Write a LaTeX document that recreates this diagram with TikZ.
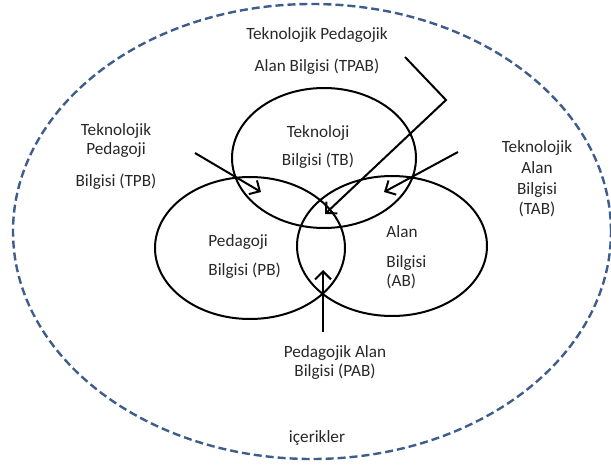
\documentclass[tikz,border=0pt]{standalone}
\usepackage{fontspec}
\setmainfont{Carlito}
\usetikzlibrary{shapes.geometric,arrows.meta}
\definecolor{dashblue}{RGB}{62,92,140}
\definecolor{textgray}{RGB}{40,40,40}
\tikzset{
  area/.style={draw=black, line width=1pt, ellipse, inner sep=0pt},
  infotext/.style={text=textgray, font=\fontsize{8.6}{9.5}\selectfont, inner sep=0pt},
  pointer/.style={draw=black, line width=1pt, -{Straight Barb[length=4pt,width=8pt]}},
}
\begin{document}
\begin{tikzpicture}[x=0.5pt, y=-0.5pt]
\useasboundingbox (0,0) rectangle (611,466);
% icerikler
\node[ellipse, draw=dashblue, line width=1.2pt, dash pattern=on 4pt off 2pt, inner sep=0pt,
      minimum width=299pt, minimum height=227.5pt] (icerik) at (312,231.5) {};
% three knowledge areas
\node[area, minimum width=92pt, minimum height=70pt] (tb) at (324,158) {};
\node[area, minimum width=95pt, minimum height=71pt] (pb) at (250,248) {};
\node[area, minimum width=95pt, minimum height=70pt] (ab) at (392,246) {};
\node[infotext, align=center] (tbtext) at (318,147) {Teknoloji\\[4.5pt]Bilgisi (TB)};
\node[infotext, align=left, anchor=west] (pbtext) at (208,257) {Pedagoji\\[5pt]Bilgisi (PB)};
\node[infotext, align=left, anchor=west] (abtext) at (386,257) {Alan\\[5.5pt]Bilgisi\\(AB)};
% outside labels
\node[infotext, align=center] (tpab) at (317,51) {Teknolojik Pedagojik\\[6.5pt]Alan Bilgisi (TPAB)};
\node[infotext, align=center] (tpb) at (116,157) {Teknolojik\\Pedagoji\\[6.5pt]Bilgisi (TPB)};
\node[infotext, align=center, font=\fontsize{8.6}{10.4}\selectfont] (tab) at (537,179) {Teknolojik\\Alan\\Bilgisi\\(TAB)};
\node[infotext, align=center] (pab) at (335,363) {Pedagojik Alan\\Bilgisi (PAB)};
\node[infotext] (ic) at (317,438) {içerikler};
% arrows
\coordinate (tpab start) at (405,57);
\coordinate (tpab bend) at (446,100);
\coordinate (tpab tip) at (325,214);
\coordinate (tpb start) at (195,153);
\coordinate (tpb tip) at (261,192);
\coordinate (tab start) at (458,152);
\coordinate (tab tip) at (384,192);
\coordinate (pab start) at (323,332);
\coordinate (pab tip) at (323,270);
\draw[pointer] (tpab start) -- (tpab bend) -- (tpab tip);
\draw[pointer] (tpb start) -- (tpb tip);
\draw[pointer] (tab start) -- (tab tip);
\draw[pointer] (pab start) -- (pab tip);
\end{tikzpicture}
\end{document}
